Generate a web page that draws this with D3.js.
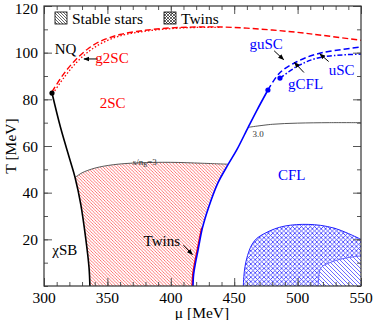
<!DOCTYPE html>
<html>
<head>
<meta charset="utf-8">
<script src="https://cdn.jsdelivr.net/npm/d3@7"></script>
<style>
  body { margin: 0; background: #fff; }
  svg text { font-family: "Liberation Serif", "DejaVu Serif", serif; }
</style>
</head>
<body>
<svg id="chart" width="374" height="320"></svg>
<script>
// values, [mu MeV, T MeV]
var chiralLine = [[306.3,82.7],[313,68],[320.5,54],[324.5,46.5],[329,35],[333,20],[335.5,8],[336.2,0]];
var g2scDashed = [[306.3,83.2],[315,90.5],[325,97],[335,101.8],[345,105],[360,107.8],[380,109.6],[400,110.6],[420,111],[440,111],[460,110.5],[480,109.7],[500,108.7],[520,107.4],[550,105.3]];
var g2scDotted = [[307,82.5],[316,89.5],[326,96],[336,100.8],[346,104.2],[360,107.2],[380,109.2],[400,110.3],[420,110.8],[440,110.8]];
var cflLine = [[417.5,0],[418,5],[419.5,10],[421.5,15.4],[425,25],[430,34],[437,44],[445,51.9],[452,58.3],[461,68],[468,75.4],[476.6,84]];
var redEdge = [[416.8,0],[417.3,5],[418.8,10],[420.8,15.4],[424.3,25]];
var guscLine = [[476.6,84],[486,91.4],[499.3,96.1],[512.4,99],[525.5,100.6],[550,102.4]];
var gcflLine = [[486.1,89.1],[499.3,94],[512.4,97.2],[525.5,98.6],[550,99.4]];
var endPoints = [[306.3,82.7],[476.6,84],[486.1,89.1]];
var isoTwoSC = [[324.5,46.5],[330,48.5],[340,50.5],[355,52],[375,52.8],[400,53],[425,52.6],[445,52.2]];
var isoCFL = [[461,68],[480,69.3],[500,69.8],[525,70],[550,70]];
var twinsOutline = [[457.2,0],[457.6,4],[458.5,8.3],[460.5,13],[463.8,17.6],[468,20.5],[474.3,22.6],[482,24.5],[490,25.7],[499,26.3],[508.4,26.4],[518,26],[529.5,24.7],[540,22.5],[550,20]];
var stableOutline = [[516.3,0],[516.6,3],[517.6,6.9],[520,8.6],[524.2,9.7],[530,10.9],[537.4,11.9],[544,12.5],[550,12.9]];
var xTicks = [300,350,400,450,500,550];
var yTicks = [20,40,60,80,100,120];
var legendItems = [{name:"Stable stars", pat:"legDiag"},{name:"Twins", pat:"legCross"}];
var phaseLabels = [
  {t:"NQ", mu:308.5, T:99.5, c:"#000", s:15},
  {t:"g2SC", mu:340.5, T:95.5, c:"#f00", s:15},
  {t:"2SC", mu:344, T:76.5, c:"#f00", s:15},
  {t:"guSC", mu:462, T:101.5, c:"#00f", s:15},
  {t:"gCFL", mu:492.5, T:84.5, c:"#00f", s:15},
  {t:"uSC", mu:524.5, T:90.5, c:"#00f", s:15},
  {t:"CFL", mu:484.5, T:45.5, c:"#00f", s:15},
  {t:"\u03c7SB", mu:306.5, T:13.5, c:"#000", s:15},
  {t:"Twins", mu:378.5, T:17, c:"#000", s:15},
  {t:"3.0", mu:464.5, T:64, c:"#333", s:9}
];
var arrows = [
  {from:[342.5,97.3], to:[331.5,97.3]},
  {from:[481.5,100.8], to:[489,97]},
  {from:[505,91.5], to:[497.5,95.8]},
  {from:[524.5,96.2], to:[517.5,99.5]},
  {from:[410,17.5], to:[417,13.5]}
];

var svg = d3.select("#chart");
var x = d3.scaleLinear().domain([300,550]).range([44,361]);
var y = d3.scaleLinear().domain([0,120]).range([286,6]);
var line = d3.line().x(function(d){return x(d[0]);}).y(function(d){return y(d[1]);}).curve(d3.curveCatmullRom);
var poly = d3.line().x(function(d){return x(d[0]);}).y(function(d){return y(d[1]);});

var defs = svg.append("defs");
function hatch(id, color, size, cross, w) {
  var p = defs.append("pattern").attr("id", id).attr("patternUnits","userSpaceOnUse")
    .attr("width", size).attr("height", size);
  var d = "M0,0L"+size+","+size+"M-1,"+(size-1)+"L1,"+(size+1)+"M"+(size-1)+",-1L"+(size+1)+",1";
  if (cross) d += "M0,"+size+"L"+size+",0M-1,1L1,-1M"+(size-1)+","+(size+1)+"L"+(size+1)+","+(size-1);
  p.append("path").attr("d", d).attr("stroke", color).attr("stroke-width", w).attr("fill","none");
}
hatch("redDiag", "#ff4848", 3.2, false, 0.75);
hatch("blueDiag", "#4848ff", 4, false, 0.8);
hatch("blueCross", "#2828ff", 4.4, true, 0.75);
hatch("legDiag", "#000", 3, false, 0.6);
hatch("legCross", "#000", 3, true, 0.6);

defs.append("clipPath").attr("id","plotClip").append("rect")
  .attr("x", x(300)).attr("y", y(120)).attr("width", x(550)-x(300)).attr("height", y(0)-y(120));

var plot = svg.append("g").attr("clip-path","url(#plotClip)");

// red hatched region: chiral line (below isentrope), bottom, red edge / cfl line, isentrope back
var chiralLow = chiralLine.filter(function(d){return d[1] <= 46.5;});
var cflLow = cflLine.filter(function(d){return d[1] > 25 && d[1] <= 52;});
var redRegion = chiralLow.concat(redEdge, cflLow, isoTwoSC.slice().reverse());
plot.append("path").attr("d", poly(redRegion)+"Z").attr("fill","url(#redDiag)");

// twins and stable regions
var corner = "L"+x(550)+","+y(0)+"Z";
plot.append("path").attr("d", line(twinsOutline)+corner).attr("fill","url(#blueCross)");
plot.append("path").attr("d", line(stableOutline)+corner).attr("fill","#fff");
plot.append("path").attr("d", line(stableOutline)+corner).attr("fill","url(#blueDiag)");
plot.append("path").attr("d", line(twinsOutline)).attr("fill","none").attr("stroke","#2020ff").attr("stroke-width",1);
plot.append("path").attr("d", line(stableOutline)).attr("fill","none").attr("stroke","#6060ff").attr("stroke-width",1);

// isentropes
plot.append("path").attr("d", line(isoTwoSC)).attr("fill","none").attr("stroke","#444").attr("stroke-width",0.9);
plot.append("path").attr("d", line(isoCFL)).attr("fill","none").attr("stroke","#444").attr("stroke-width",0.9);

// phase boundaries
plot.append("path").attr("d", line(chiralLine)).attr("fill","none").attr("stroke","#000").attr("stroke-width",1.6);
plot.append("path").attr("d", line(g2scDashed)).attr("fill","none").attr("stroke","#f00").attr("stroke-width",1.4).attr("stroke-dasharray","6,3");
plot.append("path").attr("d", line(g2scDotted)).attr("fill","none").attr("stroke","#f00").attr("stroke-width",1.3).attr("stroke-dasharray","1.5,2");
plot.append("path").attr("d", line(redEdge)).attr("fill","none").attr("stroke","#f00").attr("stroke-width",1.4);
plot.append("path").attr("d", line(cflLine)).attr("fill","none").attr("stroke","#00f").attr("stroke-width",1.6);
plot.append("path").attr("d", line(guscLine)).attr("fill","none").attr("stroke","#00f").attr("stroke-width",1.5).attr("stroke-dasharray","6,3");
plot.append("path").attr("d", line(gcflLine)).attr("fill","none").attr("stroke","#00f").attr("stroke-width",1.5).attr("stroke-dasharray","5,2,1.5,2");

plot.selectAll("circle.pt").data(endPoints).enter().append("circle").attr("class","pt")
  .attr("cx", function(d){return x(d[0]);}).attr("cy", function(d){return y(d[1]);})
  .attr("r", 2.6).attr("fill", function(d,i){return i === 0 ? "#000" : "#00f";});

// arrows
defs.append("marker").attr("id","head").attr("viewBox","0 0 10 10").attr("refX",9).attr("refY",5)
  .attr("markerWidth",6).attr("markerHeight",6).attr("orient","auto")
  .append("path").attr("d","M0,1L10,5L0,9Z").attr("fill","#000");
svg.selectAll("line.arrow").data(arrows).enter().append("line").attr("class","arrow")
  .attr("x1", function(d){return x(d.from[0]);}).attr("y1", function(d){return y(d.from[1]);})
  .attr("x2", function(d){return x(d.to[0]);}).attr("y2", function(d){return y(d.to[1]);})
  .attr("stroke","#000").attr("stroke-width",1).attr("marker-end","url(#head)");

// labels
svg.selectAll("text.phase").data(phaseLabels).enter().append("text").attr("class","phase")
  .attr("x", function(d){return x(d.mu);}).attr("y", function(d){return y(d.T);})
  .attr("fill", function(d){return d.c;}).attr("font-size", function(d){return d.s;})
  .text(function(d){return d.t;});
var sl = svg.append("text").attr("x", x(370)).attr("y", y(51.8)).attr("font-size", 9).attr("fill","#333");
sl.append("tspan").text("s/n");
sl.append("tspan").attr("font-size",6).attr("dy",2).text("B");
sl.append("tspan").attr("dy",-2).text("=3");

// legend
var leg = svg.append("g");
legendItems.forEach(function(d, i) {
  var lx = i === 0 ? 55 : 164;
  leg.append("rect").attr("x", lx).attr("y", 12).attr("width", 12).attr("height", 12)
    .attr("fill","url(#"+d.pat+")").attr("stroke","#000").attr("stroke-width",0.8);
  leg.append("text").attr("x", lx+17).attr("y", 24).attr("font-size", 15.5).text(d.name);
});

// axes
function axisTicks(g, axis) { g.call(axis); g.select(".domain").remove(); g.selectAll("text").remove(); }
var minorX = d3.range(300, 551, 10), minorY = d3.range(0, 121, 10);
axisTicks(svg.append("g").attr("transform","translate(0,"+y(0)+")"), d3.axisBottom(x).tickValues(minorX).tickSize(-4));
axisTicks(svg.append("g").attr("transform","translate(0,"+y(0)+")"), d3.axisBottom(x).tickValues(xTicks).tickSize(-8));
axisTicks(svg.append("g").attr("transform","translate(0,"+y(120)+")"), d3.axisTop(x).tickValues(minorX).tickSize(-4));
axisTicks(svg.append("g").attr("transform","translate(0,"+y(120)+")"), d3.axisTop(x).tickValues(xTicks).tickSize(-8));
axisTicks(svg.append("g").attr("transform","translate("+x(300)+",0)"), d3.axisLeft(y).tickValues(minorY).tickSize(-4));
axisTicks(svg.append("g").attr("transform","translate("+x(300)+",0)"), d3.axisLeft(y).tickValues(yTicks).tickSize(-8));
axisTicks(svg.append("g").attr("transform","translate("+x(550)+",0)"), d3.axisRight(y).tickValues(minorY).tickSize(-4));
axisTicks(svg.append("g").attr("transform","translate("+x(550)+",0)"), d3.axisRight(y).tickValues(yTicks).tickSize(-8));
svg.selectAll(".tick line").attr("stroke","#555");

svg.append("rect").attr("x", x(300)).attr("y", y(120)).attr("width", x(550)-x(300)).attr("height", y(0)-y(120))
  .attr("fill","none").attr("stroke","#333").attr("stroke-width",1.2);

svg.selectAll("text.xt").data(xTicks).enter().append("text").attr("class","xt")
  .attr("x", function(d){return x(d);}).attr("y", 303).attr("text-anchor","middle").attr("font-size",15.5)
  .text(function(d){return d;});
svg.selectAll("text.yt").data(yTicks).enter().append("text").attr("class","yt")
  .attr("x", 38).attr("y", function(d){return Math.max(y(d)+5.5, 14);}).attr("text-anchor","end").attr("font-size",15.5)
  .text(function(d){return d;});
svg.append("text").attr("x", 202).attr("y", 318).attr("text-anchor","middle").attr("font-size",15.5).text("\u03bc [MeV]");
svg.append("text").attr("transform","translate(16,146) rotate(-90)").attr("text-anchor","middle").attr("font-size",15.5).text("T [MeV]");
</script>
</body>
</html>
